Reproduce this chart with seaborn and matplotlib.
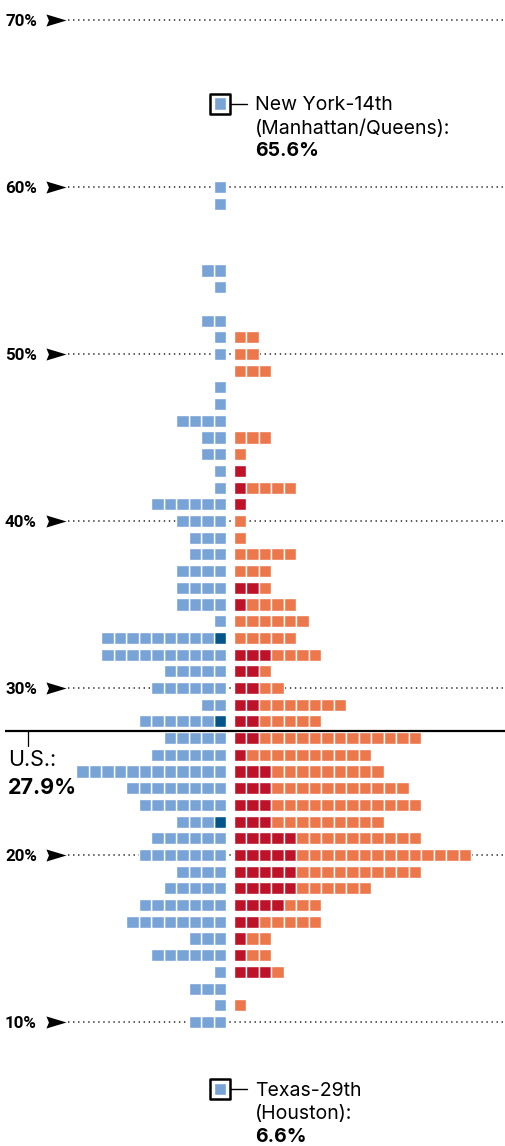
import matplotlib
matplotlib.use("Agg")
import matplotlib.pyplot as plt
import seaborn as sns
import pandas as pd
import numpy as np

# ---- data (share of adults, %) ----
pct_rows = list(range(60, 9, -1))
# counts per 1% row, from 60% down to 10%
blue_dark = [0,0,0,0,0,0,0,0,0,0, 0,0,0,0,0,0,0,0,0,0, 0,0,0,0,0,0,0,1,0,0, 0,0,1,0,0,0,0,0,1,0, 0,0,0,0,0,0,0,0,0,0, 0]
blue_light = [1,1,0,0,0,2,1,0,2,1, 1,0,1,1,4,2,2,1,1,6, 4,3,3,4,4,4,1,9,10,5, 6,2,6,5,6,12,8,7,3,6, 7,4,5,7,8,3,6,1,3,1, 3]
red = [0,0,0,0,0,0,0,0,0,0, 0,0,0,0,0,0,0,1,1,1, 0,0,0,0,2,1,0,0,3,2, 2,2,2,2,1,3,3,3,3,5, 5,5,5,4,2,1,1,3,0,0, 0]
orange = [0,0,0,0,0,0,0,0,0,2, 2,3,0,0,0,3,1,0,4,0, 1,1,5,3,1,4,6,5,4,1, 2,7,5,13,10,9,11,12,9,10, 14,10,6,3,5,2,2,1,0,1, 0]
tick_values = [70, 60, 50, 40, 30, 20, 10]
tick_labels = ["70%", "60%", "50%", "40%", "30%", "20%", "10%"]
us_value = 27.9
us_label = "U.S.:"
us_value_label = "27.9%"
outlier_rows = [65, 6]
outlier_names = [["New York-14th", "(Manhattan/Queens):"], ["Texas-29th", "(Houston):"]]
outlier_value_labels = ["65.6%", "6.6%"]

groups = ["blue_dark", "blue_light", "red", "orange"]
palette = {"blue_dark": "#03548b", "blue_light": "#77a3d6",
           "red": "#be1229", "orange": "#ec774b"}

# build one row per square
recs = []
for k, p in enumerate(pct_rows):
    i = 0
    for g, arr in (("blue_dark", blue_dark), ("blue_light", blue_light)):
        for _ in range(arr[k]):
            recs.append({"pct": p, "slot": -(0.8 + i), "group": g})
            i += 1
    i = 0
    for g, arr in (("red", red), ("orange", orange)):
        for _ in range(arr[k]):
            recs.append({"pct": p, "slot": 0.8 + i, "group": g})
            i += 1
for p in outlier_rows:
    recs.append({"pct": p, "slot": -0.8, "group": "blue_light"})
df = pd.DataFrame(recs)

# ---- figure ----
sns.set_theme(style="white")
plt.rcParams["font.family"] = ["Inter", "DejaVu Sans"]
fig = plt.figure(figsize=(5.06, 11.46), dpi=100)
ax = fig.add_axes([0, 0, 1, 1])
ax.set_xlim(-18.4, 22.08)
ax.set_ylim(10 - 124 / 16.7, 70 + 20 / 16.7)
ax.axis("off")

# dotted gridlines + arrowheads + labels
arrow = [(-1, -0.6), (1, 0), (-1, 0.6), (-0.75, 0), (-1, -0.6)]
for v, lab in zip(tick_values, tick_labels):
    ax.plot([-12.95, 22.08], [v, v], color="#222222", lw=1.1,
            linestyle=(0, (0.9, 2.4)), zorder=1, solid_capstyle="butt")
    ax.plot([-13.9], [v], marker=arrow, markersize=14.5, color="black",
            markeredgewidth=0, zorder=2)
    ax.text(-18.0, v, lab, ha="left", va="center_baseline", fontsize=12.2,
            fontweight="bold", family=["Roboto", "DejaVu Sans"],
            color="black")

# squares
sns.scatterplot(data=df, x="slot", y="pct", hue="group", palette=palette,
                hue_order=groups, marker="s", s=75, edgecolor="white",
                linewidth=1.0, legend=False, ax=ax, zorder=3)

# U.S. average line
ax.plot([-18.0, 22.08], [us_value - 0.45, us_value - 0.45], color="black",
        lw=1.6, zorder=4, solid_capstyle="butt")
ax.plot([-16.16, -16.16], [us_value - 0.45, 26.53], color="black", lw=0.9, zorder=4)
ax.text(-17.76, 25.81, us_label, ha="left", va="center_baseline", fontsize=15.5,
        color="black")
ax.text(-17.76, 24.16, us_value_label, ha="left", va="center_baseline", fontsize=15.5,
        fontweight="bold", color="black")

# callouts
for p, names, vlab in zip(outlier_rows, outlier_names, outlier_value_labels):
    ax.scatter([-0.8], [p], marker="s", s=14.4 ** 2, facecolor="white",
               edgecolor="black", linewidth=1.8, zorder=2)
    ax.plot([0.0, 1.36], [p, p], color="black", lw=1.0, zorder=2)
    for j, line in enumerate(names):
        ax.text(2.0, p - j * 1.377, line, ha="left", va="center_baseline",
                fontsize=14, color="black")
    ax.text(2.0, p - 2 * 1.377, vlab, ha="left", va="center_baseline",
            fontsize=14, fontweight="bold", color="black")

fig.savefig("out.png", dpi=100, facecolor="white")
